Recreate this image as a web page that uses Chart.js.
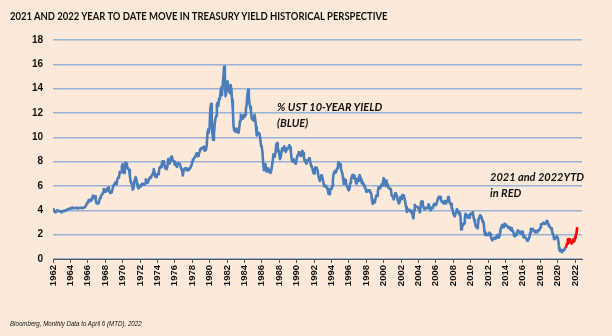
<!DOCTYPE html>
<html><head><meta charset="utf-8">
<script src="https://cdn.jsdelivr.net/npm/chart.js@4/dist/chart.umd.min.js"></script>
<style>
html,body{margin:0;padding:0;background:#fde9d9;}
#wrap{position:relative;width:612px;height:336px;overflow:hidden;background:#fde9d9;}
canvas{position:absolute;left:0;top:0;}
.t{position:absolute;white-space:nowrap;color:#111;transform-origin:0 0;}
#title{left:10px;top:9px;font:bold 11px Lato, "Liberation Sans", sans-serif;transform:scaleX(0.86);}
#foot{left:10px;top:320px;font:italic 7px "Liberation Sans", Arial, sans-serif;transform:scaleX(0.88);}
.ann{font:italic bold 11px Lato, "Liberation Sans", sans-serif;line-height:16px;}
#a1{left:277px;top:99px;}
#a2{left:490px;top:169px;}
</style></head>
<body><div id="wrap">
<canvas id="c" width="612" height="336"></canvas>
<div class="t" id="title">2021 AND 2022 YEAR TO DATE MOVE IN TREASURY YIELD HISTORICAL PERSPECTIVE</div>
<div class="t ann" id="a1">% UST 10-YEAR YIELD<br>(BLUE)</div>
<div class="t ann" id="a2">2021 and 2022YTD<br>in RED</div>
<div class="t" id="foot">Bloomberg, Monthly Data to April 6 (MTD), 2022</div>
</div>
<script>
// Monthly 10-year UST yield (%), Jan 1962 onward
const y1960s = [
4.08,4.04,3.93,3.84,3.87,3.91,4.01,3.98,3.98,3.93,3.92,3.86,
3.83,3.92,3.93,3.97,3.93,3.99,4.02,4.00,4.08,4.11,4.12,4.13,
4.17,4.15,4.22,4.23,4.20,4.17,4.19,4.19,4.20,4.19,4.15,4.18,
4.19,4.21,4.21,4.20,4.21,4.21,4.20,4.25,4.29,4.35,4.45,4.62,
4.61,4.83,4.87,4.75,4.78,4.81,5.02,5.22,5.18,5.01,5.16,4.84,
4.58,4.63,4.54,4.59,4.85,5.02,5.16,5.28,5.30,5.48,5.75,5.70,
5.53,5.56,5.74,5.64,5.87,5.72,5.50,5.42,5.46,5.58,5.70,6.03,
6.04,6.19,6.30,6.17,6.32,6.57,6.72,6.69,7.16,7.10,7.14,7.65];
const y1970s = [
7.79,7.24,7.07,7.39,7.91,7.84,7.46,7.53,7.39,7.33,6.84,6.39,
6.24,6.11,5.70,5.83,6.39,6.52,6.73,6.58,6.14,5.93,5.81,5.93,
5.95,6.08,6.07,6.19,6.13,6.11,6.11,6.21,6.55,6.48,6.28,6.36,
6.46,6.64,6.71,6.67,6.85,6.90,7.13,7.40,7.09,6.79,6.73,6.74,
6.99,6.96,7.21,7.51,7.58,7.54,7.81,8.04,8.04,7.90,7.68,7.43,
7.50,7.39,7.73,8.23,8.06,7.86,8.06,8.40,8.43,8.14,8.05,8.00,
7.74,7.79,7.73,7.56,7.90,7.86,7.83,7.77,7.59,7.41,7.29,6.87,
7.21,7.39,7.46,7.37,7.46,7.28,7.33,7.40,7.34,7.52,7.58,7.69,
8.01,8.19,8.20,8.32,8.44,8.53,8.69,8.45,8.47,8.69,8.75,9.01,
9.10,9.10,9.12,9.18,9.25,8.91,8.95,9.03,9.33,10.30,10.65,10.39];
const y1980s = [
10.80,12.41,12.75,11.47,10.18,9.78,10.25,11.10,11.51,11.75,12.68,12.84,
12.57,13.19,13.12,13.68,14.10,13.47,14.28,14.94,15.82,15.15,13.39,13.72,
14.59,14.43,13.86,13.87,13.62,14.30,13.95,13.06,12.34,10.91,10.55,10.54,
10.46,10.72,10.51,10.40,10.38,10.85,11.38,11.85,11.65,11.54,11.69,11.83,
11.67,11.84,12.32,12.63,13.41,13.90,13.36,12.72,12.52,12.16,11.57,11.50,
11.38,11.51,11.86,11.43,10.85,10.16,10.31,10.33,10.37,10.24,9.78,9.26,
9.19,8.70,7.78,7.30,7.71,7.80,7.30,7.17,7.45,7.43,7.25,7.11,
7.08,7.25,7.25,8.02,8.61,8.40,8.45,8.76,9.42,9.52,8.86,8.99,
8.67,8.21,8.37,8.72,9.09,8.92,9.06,9.26,8.98,8.80,8.96,9.11,
9.09,9.17,9.36,9.18,8.86,8.28,8.02,8.11,8.19,8.01,7.87,7.84];
const y1990s = [
8.21,8.47,8.59,8.79,8.76,8.48,8.47,8.75,8.89,8.72,8.39,8.08,
8.09,7.85,8.11,8.04,8.07,8.28,8.27,7.90,7.65,7.53,7.42,7.09,
7.03,7.34,7.54,7.48,7.39,7.26,6.84,6.59,6.42,6.59,6.87,6.77,
6.60,6.26,5.98,5.97,6.04,5.96,5.81,5.68,5.36,5.33,5.72,5.77,
5.75,5.97,6.48,6.97,7.18,7.10,7.30,7.24,7.46,7.74,7.96,7.81,
7.78,7.47,7.20,7.06,6.63,6.17,6.28,6.49,6.20,6.04,5.93,5.71,
5.65,5.81,6.27,6.51,6.74,6.91,6.87,6.64,6.83,6.53,6.20,6.30,
6.58,6.42,6.69,6.89,6.71,6.49,6.22,6.30,6.21,6.03,5.88,5.81,
5.54,5.57,5.65,5.64,5.65,5.50,5.46,5.34,4.81,4.53,4.83,4.65,
4.72,5.00,5.23,5.18,5.54,5.90,5.79,5.94,5.92,6.11,6.03,6.28];
const y2000s = [
6.66,6.52,6.26,5.99,6.44,6.10,6.05,5.83,5.80,5.74,5.72,5.24,
5.16,5.10,4.89,5.14,5.39,5.28,5.24,4.97,4.73,4.57,4.65,5.09,
5.04,4.91,5.28,5.21,5.16,4.93,4.65,4.26,3.87,3.94,4.05,4.03,
4.05,3.90,3.81,3.96,3.57,3.33,3.98,4.45,4.27,4.29,4.30,4.27,
4.15,4.08,3.83,4.35,4.72,4.73,4.50,4.28,4.13,4.10,4.19,4.23,
4.22,4.17,4.50,4.34,4.14,4.00,4.18,4.26,4.20,4.46,4.54,4.47,
4.42,4.57,4.72,4.99,5.11,5.11,5.09,4.88,4.72,4.73,4.60,4.56,
4.76,4.72,4.56,4.69,4.75,5.10,5.00,4.67,4.52,4.53,4.15,4.10,
3.74,3.74,3.51,3.68,3.88,4.10,4.01,3.89,3.69,3.81,3.53,2.42,
2.52,2.87,2.82,2.93,3.29,3.72,3.56,3.59,3.40,3.39,3.40,3.59];
const y2010s = [
3.73,3.69,3.73,3.85,3.42,3.20,3.01,2.70,2.65,2.54,2.76,3.29,
3.39,3.58,3.41,3.46,3.17,3.00,3.00,2.30,1.98,2.15,2.01,1.98,
1.97,1.97,2.17,2.05,1.80,1.62,1.53,1.68,1.72,1.75,1.65,1.72,
1.91,1.98,1.96,1.76,1.93,2.30,2.58,2.74,2.81,2.62,2.72,2.90,
2.86,2.71,2.72,2.71,2.56,2.60,2.54,2.42,2.53,2.30,2.33,2.21,
1.88,1.98,2.04,1.94,2.20,2.36,2.32,2.17,2.17,2.07,2.26,2.24,
2.09,1.78,1.89,1.81,1.81,1.64,1.50,1.56,1.63,1.76,2.14,2.49,
2.43,2.42,2.48,2.30,2.30,2.19,2.32,2.21,2.20,2.36,2.35,2.40,
2.58,2.86,2.84,2.87,2.98,2.91,2.89,2.89,3.00,3.15,3.12,2.83,
2.71,2.68,2.57,2.53,2.40,2.07,2.06,1.63,1.70,1.71,1.81,1.86];
const y2020 = [1.76,1.50,0.87,0.66,0.67,0.73,0.55,0.65,0.68,0.79,0.87,0.93];
// 2021 and 2022 YTD (red), Jan 2021 to Apr 2022 (MTD)
const y2021to2022 = [1.08,1.26,1.61,1.64,1.62,1.52,1.32,1.28,1.37,1.58,1.56,1.47,
1.76,1.93,2.13,2.62];
const startYear = 1962;
const yearTicks = [];
for (let y = 1962; y <= 2022; y += 2) yearTicks.push(y);

const blueVals = [].concat(y1960s, y1970s, y1980s, y1990s, y2000s, y2010s, y2020);
const blue = blueVals.map((v, i) => ({x: startYear + i / 12, y: v}));
const redStart = blueVals.length - 1;
const red = [blueVals[redStart]].concat(y2021to2022).map((v, i) => ({x: startYear + (redStart + i) / 12, y: v}));

new Chart(document.getElementById('c'), {
  type: 'line',
  data: { datasets: [
    { data: blue, borderColor: '#4a7ebb', borderWidth: 2.6, pointRadius: 0, tension: 0, borderJoinStyle: 'round' },
    { data: red, borderColor: '#ff0000', borderWidth: 2.6, pointRadius: 0, tension: 0, borderJoinStyle: 'round' }
  ]},
  options: {
    responsive: false, animation: false, parsing: true,
    layout: { padding: { top: 40, right: 30, left: 0, bottom: 0 } },
    plugins: { legend: { display: false }, tooltip: { enabled: false }, title: { display: false } },
    scales: {
      x: {
        type: 'linear', min: 1962, max: 2022.8,
        afterFit: s => { s.height = 77; },
        afterBuildTicks: s => { s.ticks = yearTicks.map(v => ({value: v})); },
        ticks: { autoSkip: false, minRotation: 90, maxRotation: 90, padding: 2, color: '#111',
                 font: { family: '"Liberation Sans", Arial, sans-serif', size: 9.5, weight: 'bold' },
                 callback: v => String(v) },
        grid: { display: true, drawOnChartArea: false, drawTicks: true, tickLength: 4, color: '#595959' },
        border: { display: true, color: '#595959', width: 1 }
      },
      y: {
        min: 0, max: 18,
        afterFit: s => { s.width = 53; },
        ticks: { stepSize: 2, padding: 10, color: '#111',
                 font: { family: '"Liberation Sans", Arial, sans-serif', size: 10, weight: 'bold' } },
        grid: { color: '#95b3d7', lineWidth: 1.5, drawTicks: false },
        border: { display: false }
      }
    }
  }
});
</script>
</body></html>
